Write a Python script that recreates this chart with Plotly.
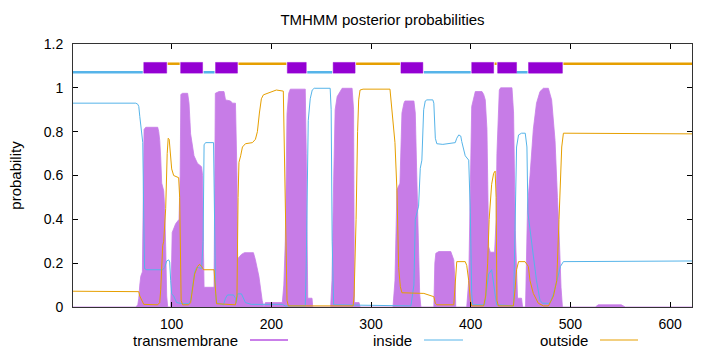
import plotly.graph_objects as go

# ---------------- data ----------------
# transmembrane posterior probability (position, value)
tm_pos = [1, 64, 66, 67, 68, 69, 70.6, 71.5, 72.3, 74, 86, 87, 88, 89, 90, 92, 93, 94, 95, 96,
          99, 99.5, 100.5, 104, 107.4, 108.5, 109.2, 111, 116, 117.4, 119, 122.4, 125.8, 130, 131, 131.8, 132.5,
          142.5, 143, 143.8, 147.5, 152.5, 154, 159, 161, 164, 165.5, 166.2, 170, 173, 182, 184, 187.5, 190.8, 192.5,
          194, 200, 211, 212.5, 214, 215.7, 217.4, 219, 234, 235, 236, 236.5, 240.8, 241.5,
          259.5, 260.8, 262.5, 264, 266, 271, 281, 282.5, 283.3, 288, 289,
          322, 324, 326, 329, 331, 333, 334, 343, 344.4, 346, 347, 348.8, 350,
          363, 364, 365, 368, 380, 383, 384.5, 385,
          396, 398, 399.6, 401, 404.6, 411.3, 413, 414.6, 416.3, 418, 419.6, 424, 425.5, 426.3, 428.7, 430, 441.4,
          443, 444.7, 446, 447, 451, 452, 455, 456, 457, 459.5, 462.8, 466, 469.5, 472.9, 477.9, 481.2, 484.6,
          487, 488.6, 490.6, 492, 525, 528, 551, 555, 622]
tm_val = [0, 0, 0.01, 0.04, 0.1, 0.14, 0.16, 0.5, 0.81, 0.82, 0.82, 0.80, 0.76, 0.68, 0.565, 0.53, 0.45, 0.275, 0.05, 0.0,
          0, 0.1, 0.34, 0.38, 0.40, 0.6, 0.97, 0.975, 0.975, 0.93, 0.79, 0.69, 0.656, 0.64, 0.6, 0.3, 0.09,
          0.09, 0.5, 0.975, 0.983, 0.983, 0.945, 0.94, 0.93, 0.93, 0.6, 0.22, 0.24, 0.248, 0.248, 0.215, 0.14, 0.03, 0.0,
          0.02, 0.02, 0.02, 0.1, 0.3, 0.88, 0.975, 0.994, 0.994, 0.7, 0.3, 0.04, 0.04, 0,
          0, 0.12, 0.58, 0.9, 0.96, 0.998, 0.998, 0.9, 0.02, 0.02, 0,
          0, 0.12, 0.535, 0.565, 0.885, 0.93, 0.94, 0.94, 0.885, 0.58, 0.4, 0.06, 0,
          0, 0.2, 0.245, 0.253, 0.253, 0.215, 0.1, 0,
          0, 0.12, 0.58, 0.915, 0.983, 0.983, 0.97, 0.945, 0.81, 0.275, 0.25, 0.25, 0.4, 0.7, 0.99, 1.0, 1.0,
          0.885, 0.35, 0.12, 0.04, 0.04, 0, 0, 0.3, 0.46, 0.6, 0.81, 0.93, 0.983, 0.998, 0.998, 0.945, 0.76,
          0.5, 0.35, 0.09, 0, 0, 0.01, 0.01, 0, 0]

# inside posterior probability
in_pos = [1, 64, 66, 67, 68, 69, 70, 71, 72, 72.8, 75, 91, 93, 95, 97, 98, 99, 100, 102, 105, 111, 117,
          119, 121, 123, 125, 127, 130, 131.5, 132.5, 134, 142, 143, 144, 145, 152, 154, 156, 162, 164, 165,
          166, 170, 174, 180, 211, 214, 234, 235, 236, 237, 239, 241, 243, 259, 260, 261, 262.5,
          340, 343, 344.4, 347.7, 349.4, 351, 352.8, 354.4, 356, 362, 363, 364.5, 366, 372, 380, 384.5, 386,
          388, 390, 391, 394.5, 398, 399.6, 401, 402, 414, 416, 418, 421, 422.5, 424.6, 426, 443, 444.7, 446,
          448, 451, 454.7, 456.4, 457.4, 459.5, 462.8, 466, 469.5, 472, 479.5, 483, 486.5, 490, 493, 530, 560, 622]
in_val = [0.93, 0.93, 0.925, 0.915, 0.87, 0.82, 0.79, 0.75, 0.40, 0.175, 0.17, 0.17, 0.18, 0.21, 0.215, 0.205,
          0.12, 0.06, 0.05, 0.02, 0.015, 0.015,
          0.03, 0.10, 0.16, 0.18, 0.18, 0.175, 0.3, 0.74, 0.75, 0.75, 0.5, 0.06, 0.02, 0.01, 0.04, 0.055, 0.055,
          0.04, 0.02,
          0.06, 0.06, 0.02, 0.012, 0.012, 0.005, 0.005, 0.2, 0.6, 0.85, 0.95, 0.99, 0.998, 0.998, 0.9, 0.3, 0.01,
          0.005, 0.1, 0.4, 0.46, 0.633, 0.67, 0.9, 0.94, 0.945, 0.945, 0.93, 0.77, 0.745, 0.742, 0.745, 0.75,
          0.77,
          0.785, 0.78, 0.755, 0.69, 0.67, 0.43, 0.06, 0.01, 0.01, 0.08, 0.15, 0.17, 0.12, 0.04, 0.01, 0.005, 0.4,
          0.73,
          0.785, 0.793, 0.793, 0.73, 0.43, 0.35, 0.245, 0.12, 0.03, 0.017, 0.017, 0.06, 0.12, 0.185, 0.207,
          0.207, 0.21, 0.21]

# outside posterior probability
out_pos = [1, 66, 67, 68, 70, 72, 86, 88, 89, 90, 91, 92, 94, 95.5, 96.5, 97.5, 99, 100, 102, 107, 108,
           108.5, 109.5, 111, 117, 119, 121, 123, 126, 128, 130, 132, 142.5, 143.5, 145, 164, 165.5, 166.6,
           167.5, 169.2, 171, 174, 181, 184, 186, 188, 190, 192, 201, 205, 212, 213, 214.7, 215.7, 217,
           282, 283, 285, 286.5, 287.6, 289, 292, 319, 321, 324, 326, 327.7, 329.4, 331, 353, 357, 363,
           364.5, 366, 383, 384.5, 386, 394.5, 396, 398, 399.6, 401, 413, 415, 417, 418.5, 420, 421, 423,
           424.5, 425.5, 426.3, 427.7, 442.8, 444.5, 446, 448, 454.5, 457.8, 459.5, 462.8, 467.8, 473, 478,
           483, 486.3, 488.6, 491.3, 493, 528, 560, 622]
out_val = [0.072, 0.072, 0.07, 0.05, 0.03, 0.012, 0.01, 0.02, 0.08, 0.2, 0.28, 0.30, 0.45, 0.7, 0.77, 0.765,
           0.67, 0.63, 0.6, 0.59, 0.5,
           0.2, 0.03, 0.01, 0.01, 0.02, 0.08, 0.15, 0.185, 0.195, 0.185, 0.17, 0.17, 0.1, 0.015, 0.01, 0.05, 0.5,
           0.66, 0.69, 0.73, 0.745, 0.75, 0.765, 0.8, 0.885, 0.95, 0.968, 0.983, 0.99, 0.985, 0.73, 0.43, 0.03,
           0.005,
           0.005, 0.05, 0.4, 0.8, 0.945, 0.99, 0.994, 0.994, 0.9, 0.75, 0.53, 0.18, 0.093, 0.065, 0.062, 0.055,
           0.047,
           0.017, 0.01, 0.01, 0.1, 0.207, 0.207, 0.19, 0.12, 0.03, 0.005, 0.005, 0.05, 0.2, 0.4, 0.5, 0.56, 0.61,
           0.62, 0.5, 0.03, 0.005, 0.005, 0.08, 0.17, 0.207, 0.207, 0.185, 0.12, 0.062, 0.017, 0.005, 0.005,
           0.05, 0.12, 0.4, 0.73, 0.793, 0.793, 0.79, 0.79]

# predicted topology (segment start, end)
inside_segs = [(1, 71), (132, 143), (236, 261), (353, 400), (446, 457)]
tm_segs = [(72, 95), (109, 131), (144, 166), (216, 235), (262, 284), (330, 352), (401, 423), (427, 446), (458, 492)]
outside_segs = [(96, 108), (167, 215), (285, 329), (424, 426), (493, 622)]

x_ticks = [100, 200, 300, 400, 500, 600]
y_ticks = [0, 0.2, 0.4, 0.6, 0.8, 1.0, 1.2]
y_ticktext = ["0", "0.2", "0.4", "0.6", "0.8", "1", "1.2"]

TITLE = "TMHMM posterior probabilities"
Y_TITLE = "probability"
LEGEND = ["transmembrane", "inside", "outside"]

# ---------------- styles ----------------
C_TM = "#9400d3"
C_TM_FILL = "rgb(199,124,231)"
C_IN = "#56b4e9"
C_OUT = "#e69f00"
FONT = "Liberation Sans, Arial, sans-serif"
FS = 14
FS_BIG = 15

Y_IN, Y_OUT, Y_TM0, Y_TM1 = 1.071, 1.110, 1.067, 1.116


def seg_xy(segs, yv):
    xs, ys = [], []
    for s, e in segs:
        xs += [s, e, None]
        ys += [yv, yv, None]
    return xs, ys


fig = go.Figure()

fig.add_trace(go.Scatter(x=tm_pos, y=tm_val, mode="lines", fill="tozeroy",
                         fillcolor=C_TM_FILL, line=dict(color=C_TM_FILL, width=0.8),
                         name=LEGEND[0], showlegend=False))
fig.add_trace(go.Scatter(x=in_pos, y=in_val, mode="lines", line=dict(color=C_IN, width=1),
                         name=LEGEND[1], showlegend=False))
fig.add_trace(go.Scatter(x=out_pos, y=out_val, mode="lines", line=dict(color=C_OUT, width=1),
                         name=LEGEND[2], showlegend=False))

xi, yi = seg_xy(inside_segs, Y_IN)
fig.add_trace(go.Scatter(x=xi, y=yi, mode="lines", line=dict(color=C_IN, width=2.5),
                         showlegend=False, hoverinfo="skip"))
xo, yo = seg_xy(outside_segs, Y_OUT)
fig.add_trace(go.Scatter(x=xo, y=yo, mode="lines", line=dict(color=C_OUT, width=2.5),
                         showlegend=False, hoverinfo="skip"))

shapes = []
for s, e in tm_segs:
    shapes.append(dict(type="rect", xref="x", yref="y", x0=s, x1=e, y0=Y_TM0, y1=Y_TM1,
                       fillcolor=C_TM, line=dict(color="rgba(148,0,211,0.45)", width=1), layer="above"))

# manual gnuplot-style legend (text then sample line)
L, R, T, B = 73, 28, 44, 45
W, H = 720, 352
pw, ph = W - L - R, H - T - B


def px2paper_x(px):
    return (px - L) / pw


def py2paper_y(py):
    return (H - B - py) / ph


leg_y = py2paper_y(340)
leg_items = [(LEGEND[0], 240, 250, 288, C_TM), (LEGEND[1], 414, 424, 463, C_IN), (LEGEND[2], 590, 600, 638, C_OUT)]
annotations = []
for text, tx, s0, s1, col in leg_items:
    annotations.append(dict(text=text, xref="paper", yref="paper", x=px2paper_x(tx), y=leg_y,
                            xanchor="right", yanchor="middle", showarrow=False,
                            font=dict(family=FONT, size=FS_BIG, color="#000")))
    shapes.append(dict(type="line", xref="paper", yref="paper", x0=px2paper_x(s0), x1=px2paper_x(s1),
                       y0=leg_y, y1=leg_y, line=dict(color=col, width=1)))

fig.update_layout(
    width=W, height=H,
    margin=dict(l=L, r=R, t=T, b=B),
    paper_bgcolor="white", plot_bgcolor="white",
    font=dict(family=FONT, size=FS, color="#000"),
    title=dict(text=TITLE, x=0.5, xref="paper", xanchor="center", y=1 - 20 / H, yref="container",
               yanchor="middle", font=dict(family=FONT, size=FS_BIG)),
    shapes=shapes, annotations=annotations,
    showlegend=False,
)
fig.update_xaxes(range=[1, 622], tickvals=x_ticks, ticks="inside", ticklen=5, tickcolor="#000",
                 showline=True, linecolor="#333", linewidth=1, mirror="allticks",
                 showgrid=False, zeroline=False, ticklabelstandoff=4)
fig.update_yaxes(range=[0, 1.2], tickvals=y_ticks, ticktext=y_ticktext, ticks="inside", ticklen=5,
                 tickcolor="#000", showline=True, linecolor="#333", linewidth=1, mirror="allticks",
                 showgrid=False, zeroline=False, ticklabelstandoff=6,
                 title=dict(text=Y_TITLE, standoff=18, font=dict(family=FONT, size=FS_BIG)))

fig.write_html("out.html")
